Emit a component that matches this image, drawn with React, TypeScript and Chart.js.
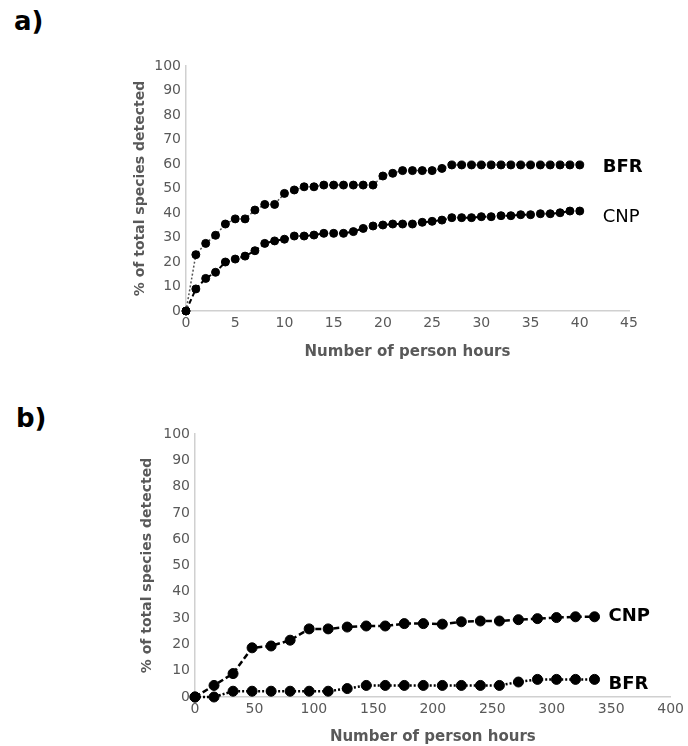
import React, { useEffect, useRef } from "react";
import { Chart, registerables } from "chart.js";

Chart.register(...registerables);

// ---------- Panel a data ----------
const hoursA = [0, 1, 2, 3, 4, 5, 6, 7, 8, 9, 10, 11, 12, 13, 14, 15, 16, 17, 18, 19, 20,
  21, 22, 23, 24, 25, 26, 27, 28, 29, 30, 31, 32, 33, 34, 35, 36, 37, 38, 39, 40];
const bfrA = [0, 23, 27.6, 30.9, 35.5, 37.6, 37.6, 41.2, 43.5, 43.5, 48, 49.4, 50.7, 50.7, 51.4,
  51.4, 51.4, 51.4, 51.4, 51.4, 55.1, 56.2, 57.3, 57.3, 57.3, 57.3, 58.2, 59.6, 59.6, 59.6,
  59.6, 59.6, 59.6, 59.6, 59.6, 59.6, 59.6, 59.6, 59.6, 59.6, 59.6];
const cnpA = [0, 9, 13.3, 15.8, 20, 21.2, 22.4, 24.6, 27.6, 28.6, 29.3, 30.6, 30.6, 31, 31.7,
  31.7, 31.7, 32.4, 33.7, 34.7, 35.1, 35.5, 35.5, 35.5, 36.2, 36.6, 37.1, 38.1, 38.1, 38.1,
  38.5, 38.5, 38.9, 38.9, 39.3, 39.3, 39.7, 39.7, 40.1, 40.8, 40.8];

// ---------- Panel b data ----------
const hoursB = [0, 16, 32, 48, 64, 80, 96, 112, 128, 144, 160, 176, 192, 208, 224, 240, 256,
  272, 288, 304, 320, 336];
const cnpB = [0, 4.4, 8.9, 18.7, 19.4, 21.6, 25.9, 25.9, 26.6, 27, 27, 27.9, 27.9, 27.7, 28.6,
  28.9, 28.9, 29.4, 29.8, 30.2, 30.5, 30.5];
const bfrB = [0, 0, 2.2, 2.2, 2.2, 2.2, 2.2, 2.2, 3.2, 4.4, 4.4, 4.4, 4.4, 4.4, 4.4, 4.4, 4.4,
  5.7, 6.7, 6.7, 6.7, 6.7];

const yTicksMax = 100;
const yTickStep = 10;
const xMaxA = 45;
const xStepA = 5;
const xMaxB = 400;
const xStepB = 50;

const FONT = "'DejaVu Sans', sans-serif";
const GREY = "#595959";
const AXIS = "#d0d0d0";

const endLabels = {
  id: "endLabels",
  afterDatasetsDraw(chart: any, _args: any, opts: any) {
    const ctx = chart.ctx;
    const items = opts.items || [];
    items.forEach((it: any, i: number) => {
      const meta = chart.getDatasetMeta(i);
      const pts = meta.data;
      const last = pts[pts.length - 1];
      if (!last) return;
      ctx.save();
      ctx.font = `${it.bold ? "bold " : ""}${it.size}px ${FONT}`;
      ctx.fillStyle = "#000";
      ctx.textAlign = "left";
      ctx.textBaseline = "middle";
      ctx.fillText(it.text, last.x + it.dx, last.y + it.dy);
      ctx.restore();
    });
  },
};

function pt(x: number[], y: number[]) {
  return x.map((v, i) => ({ x: v, y: y[i] }));
}

type PanelCfg = {
  datasets: any[];
  xMax: number;
  xStep: number;
  yAxisWidth: number;
  xAxisHeight: number;
  padding: any;
  yTitlePad: number;
  xTitlePad: number;
  labels: any[];
};

function PanelChart({ cfg, style }: { cfg: PanelCfg; style: React.CSSProperties }) {
  const ref = useRef<HTMLCanvasElement>(null);
  useEffect(() => {
    if (!ref.current) return;
    const chart = new Chart(ref.current, {
      type: "line",
      data: { datasets: cfg.datasets },
      options: {
        animation: false,
        responsive: false,
        maintainAspectRatio: false,
        devicePixelRatio: 1,
        layout: { padding: cfg.padding },
        plugins: {
          legend: { display: false },
          tooltip: { enabled: false },
          endLabels: { items: cfg.labels },
        } as any,
        scales: {
          x: {
            type: "linear",
            min: 0,
            max: cfg.xMax,
            grid: { display: false, drawTicks: false },
            border: { display: true, color: AXIS, width: 1.5 },
            ticks: {
              stepSize: cfg.xStep,
              color: GREY,
              font: { family: FONT, size: 14 },
              padding: 4,
              maxRotation: 0,
            },
            title: {
              display: true,
              text: "Number of person hours",
              color: GREY,
              font: { family: FONT, size: 15, weight: "bold" },
              padding: { top: 0, bottom: cfg.xTitlePad },
            },
            afterFit: (s: any) => {
              s.height = cfg.xAxisHeight;
            },
          },
          y: {
            type: "linear",
            min: 0,
            max: yTicksMax,
            grid: { display: false, drawTicks: false },
            border: { display: true, color: AXIS, width: 1.5 },
            ticks: {
              stepSize: yTickStep,
              color: GREY,
              font: { family: FONT, size: 14 },
              padding: 5,
            },
            title: {
              display: true,
              text: "% of total species detected",
              color: GREY,
              font: { family: FONT, size: 14, weight: "bold" },
              padding: { top: cfg.yTitlePad, bottom: 0 },
            },
            afterFit: (s: any) => {
              s.width = cfg.yAxisWidth;
            },
          },
        },
      } as any,
      plugins: [endLabels],
    });
    return () => chart.destroy();
  }, []);
  const w = style.width as number;
  const h = style.height as number;
  return <canvas ref={ref} width={w} height={h} style={{ position: "absolute", ...style }} />;
}

const panelA: PanelCfg = {
  datasets: [
    {
      label: "BFR",
      data: pt(hoursA, bfrA),
      borderColor: "#555",
      borderWidth: 1.5,
      borderDash: [2, 2],
      pointBackgroundColor: "#000",
      pointBorderColor: "#000",
      pointRadius: 4,
      pointBorderWidth: 1,
      clip: false,
    },
    {
      label: "CNP",
      data: pt(hoursA, cnpA),
      borderColor: "#000",
      borderWidth: 2,
      borderDash: [5, 3],
      pointBackgroundColor: "#000",
      pointBorderColor: "#000",
      pointRadius: 4,
      pointBorderWidth: 1,
      clip: false,
    },
  ],
  xMax: xMaxA,
  xStep: xStepA,
  yAxisWidth: 66,
  xAxisHeight: 59,
  padding: { top: 26, right: 59, left: 0, bottom: 0 },
  yTitlePad: 12,
  xTitlePad: 9,
  labels: [
    { text: "BFR", bold: true, size: 18, dx: 23, dy: 2 },
    { text: "CNP", bold: false, size: 18, dx: 23, dy: 6 },
  ],
};

const panelB: PanelCfg = {
  datasets: [
    {
      label: "CNP",
      data: pt(hoursB, cnpB),
      borderColor: "#000",
      borderWidth: 2.5,
      borderDash: [6, 3],
      pointBackgroundColor: "#000",
      pointBorderColor: "#000",
      pointRadius: 5,
      pointBorderWidth: 1,
      clip: false,
    },
    {
      label: "BFR",
      data: pt(hoursB, bfrB),
      borderColor: "#000",
      borderWidth: 2.5,
      borderDash: [2, 2],
      pointBackgroundColor: "#000",
      pointBorderColor: "#000",
      pointRadius: 5,
      pointBorderWidth: 1,
      clip: false,
    },
  ],
  xMax: xMaxB,
  xStep: xStepB,
  yAxisWidth: 75,
  xAxisHeight: 49,
  padding: { top: 24, right: 13, left: 0, bottom: 0 },
  yTitlePad: 18.6,
  xTitlePad: 0,
  labels: [
    { text: "CNP", bold: true, size: 18, dx: 14, dy: 0 },
    { text: "BFR", bold: true, size: 18, dx: 14, dy: 5 },
  ],
};

const letterStyle: React.CSSProperties = {
  position: "absolute",
  fontFamily: FONT,
  fontWeight: "bold",
  fontSize: 26,
  lineHeight: "26px",
  color: "#000",
  margin: 0,
};

export default function App() {
  return (
    <div style={{ position: "absolute", left: 0, top: 0, width: 688, height: 746, background: "#fff", overflow: "hidden" }}>
      <div style={{ ...letterStyle, left: 14, top: 8 }}>a)</div>
      <div style={{ ...letterStyle, left: 16, top: 405 }}>b)</div>
      <PanelChart cfg={panelA} style={{ left: 120, top: 40, width: 568, height: 330 }} />
      <PanelChart cfg={panelB} style={{ left: 120, top: 410, width: 568, height: 336 }} />
    </div>
  );
}
